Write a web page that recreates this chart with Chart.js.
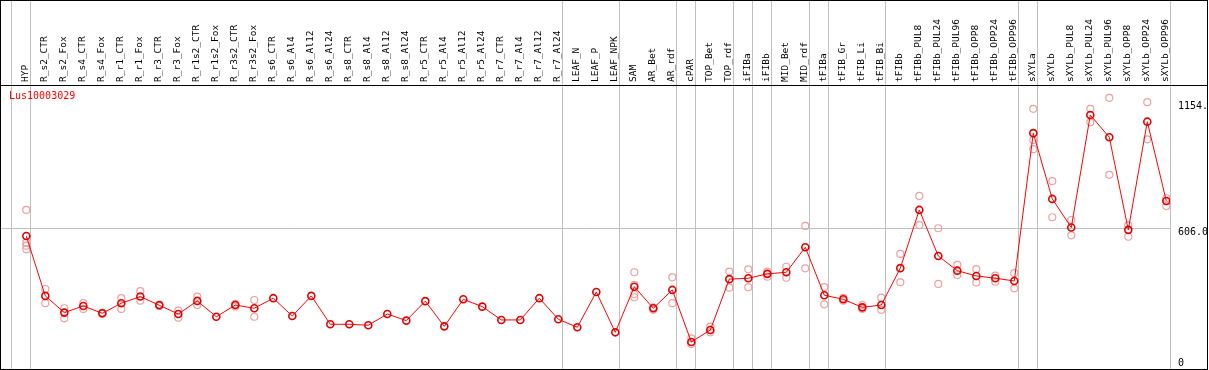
<!DOCTYPE html>
<html>
<head>
<meta charset="utf-8">
<script src="https://cdn.jsdelivr.net/npm/chart.js@4.4.1/dist/chart.umd.min.js"></script>
<style>
  html, body { margin: 0; padding: 0; background: #fff; }
  #wrap { width: 1209px; height: 370px; }
</style>
</head>
<body>
<div id="wrap"><canvas id="c" width="1209" height="370"></canvas></div>
<script>
const geneName = 'Lus10003029';

const categories = [
  'HYP', 'R_s2_CTR', 'R_s2_Fox', 'R_s4_CTR', 'R_s4_Fox', 'R_r1_CTR', 'R_r1_Fox', 'R_r3_CTR', 'R_r3_Fox',
  'R_r1s2_CTR', 'R_r1s2_Fox', 'R_r3s2_CTR', 'R_r3s2_Fox', 'R_s6_CTR', 'R_s6_Al4', 'R_s6_Al12', 'R_s6_Al24',
  'R_s8_CTR', 'R_s8_Al4', 'R_s8_Al12', 'R_s8_Al24', 'R_r5_CTR', 'R_r5_Al4', 'R_r5_Al12', 'R_r5_Al24',
  'R_r7_CTR', 'R_r7_Al4', 'R_r7_Al12', 'R_r7_Al24', 'LEAF_N', 'LEAF_P', 'LEAF_NPK', 'SAM', 'AR_Bet', 'AR_rdf',
  'cPAR', 'TOP_Bet', 'TOP_rdf', 'iFIBa', 'iFIBb', 'MID_Bet', 'MID_rdf', 'tFIBa', 'tFIB_Gr', 'tFIB_Li', 'tFIB_Bi',
  'tFIBb', 'tFIBb_PUL8', 'tFIBb_PUL24', 'tFIBb_PUL96', 'tFIBb_OPP8', 'tFIBb_OPP24', 'tFIBb_OPP96',
  'sXYLa', 'sXYLb', 'sXYLb_PUL8', 'sXYLb_PUL24', 'sXYLb_PUL96', 'sXYLb_OPP8', 'sXYLb_OPP24', 'sXYLb_OPP96'
];

// mean expression per sample
const meanValues = [
  572, 311, 238, 267, 235, 279, 308, 270, 232,
  289, 220, 271, 257, 301, 223, 311, 187,
  187, 183, 232, 203, 288, 178, 296, 264,
  206, 206, 301, 209, 174, 328, 152, 351, 257, 337,
  110, 162, 384, 388, 407, 414, 523, 314, 296, 261, 271,
  432, 686, 485, 421, 398, 388, 376,
  1021, 734, 609, 1100, 1003, 599, 1071, 725
];

// individual replicates per sample
const replicates = [
  [686, 543, 530, 514], [341, 279], [257, 213], [279, 254], [238, 232], [301, 254], [332, 290], [274, 267], [247, 216],
  [308, 271], [], [276, 264], [293, 220], [], [], [], [],
  [], [], [], [], [], [], [], [],
  [], [], [], [], [], [], [], [414, 359, 319, 305], [261, 250], [392, 279],
  [126, 101], [177, 152], [417, 347], [427, 349], [417, 395], [438, 390], [616, 431], [349, 274], [290, 302], [271, 254], [303, 250],
  [494, 370], [747, 620], [606, 363], [446, 402], [428, 369], [399, 373], [410, 344],
  [1127, 991, 951], [812, 654], [642, 575], [1127, 1068], [1175, 839], [620, 569], [1156, 994], [737, 703]
];

// group separators drawn after these sample indices
const separatorsAfter = [-1, 0, 28, 31, 34, 35, 37, 38, 39, 41, 42, 45, 52, 53, 60];

const yTickValues = [0, 606, 1154];
const yTickLabels = ['0', '606.0', '1154.'];

const meanPoints = meanValues.map((v, i) => ({ x: i, y: v }));
const repPoints = [];
replicates.forEach((arr, i) => arr.forEach(v => repPoints.push({ x: i, y: v })));

const framePlugin = {
  id: 'frame',
  beforeDatasetsDraw(chart) {
    const { ctx, chartArea, scales } = chart;
    ctx.save();
    ctx.strokeStyle = '#c0c0c0';
    ctx.lineWidth = 1;
    separatorsAfter.forEach(i => {
      const px = Math.round(scales.x.getPixelForValue(i + 0.21)) + 0.5;
      ctx.beginPath();
      ctx.moveTo(px, 0);
      ctx.lineTo(px, chartArea.bottom);
      ctx.stroke();
    });
    ctx.restore();
  },
  afterDraw(chart) {
    const { ctx, chartArea, scales } = chart;
    ctx.save();
    ctx.strokeStyle = '#000';
    ctx.lineWidth = 1;
    ctx.beginPath();
    ctx.moveTo(0, 0.5); ctx.lineTo(1208, 0.5);
    ctx.moveTo(0, chartArea.top + 0.5); ctx.lineTo(1208, chartArea.top + 0.5);
    ctx.moveTo(0, chartArea.bottom + 0.5); ctx.lineTo(1208, chartArea.bottom + 0.5);
    ctx.moveTo(0.5, 0); ctx.lineTo(0.5, chartArea.bottom);
    ctx.moveTo(1207.5, 0); ctx.lineTo(1207.5, chartArea.bottom);
    ctx.stroke();

    ctx.font = '10px "DejaVu Sans Mono"';
    ctx.textBaseline = 'top';
    ctx.textAlign = 'left';
    ctx.fillStyle = '#ff0000';
    ctx.fillText(geneName, 9, chartArea.top + 6);

    ctx.fillStyle = '#000';
    yTickValues.forEach((v, k) => {
      let py = scales.y.getPixelForValue(v) - 1;
      py = Math.min(py, chartArea.bottom - 11);
      ctx.fillText(yTickLabels[k], chartArea.right + 8, py);
    });
    ctx.restore();
  }
};

new Chart(document.getElementById('c'), {
  type: 'line',
  data: {
    datasets: [
      {
        label: 'mean',
        data: meanPoints,
        borderColor: '#ff0000',
        borderWidth: 1,
        pointRadius: 3.5,
        pointBorderWidth: 1.6,
        pointBorderColor: '#e00000',
        pointBackgroundColor: 'rgba(0,0,0,0)',
        tension: 0,
        order: 0
      },
      {
        label: 'replicates',
        data: repPoints,
        showLine: false,
        pointRadius: 3.5,
        pointBorderWidth: 1.2,
        pointBorderColor: '#f0a0a0',
        pointBackgroundColor: 'rgba(0,0,0,0)',
        order: 1
      }
    ]
  },
  options: {
    responsive: false,
    devicePixelRatio: 1,
    animation: false,
    layout: { autoPadding: false, padding: { left: 1, right: 2, top: 0, bottom: 1 } },
    plugins: { legend: { display: false }, tooltip: { enabled: false } },
    scales: {
      x: {
        type: 'linear',
        position: 'top',
        min: -1.332,
        max: 60.195,
        afterBuildTicks: s => { s.ticks = categories.map((c, i) => ({ value: i })); },
        afterFit: s => { s.height = 85; s.paddingLeft = 0; s.paddingRight = 0; },
        ticks: {
          autoSkip: false,
          minRotation: 90,
          maxRotation: 90,
          padding: 3,
          labelOffset: 11,
          color: '#000',
          font: { family: 'DejaVu Sans Mono', size: 9.5, lineHeight: 1.2 },
          callback: v => categories[v]
        },
        grid: { display: false, drawTicks: false },
        border: { display: false }
      },
      y: {
        type: 'linear',
        position: 'right',
        min: -8,
        max: 1231,
        afterBuildTicks: s => { s.ticks = yTickValues.map(v => ({ value: v })); },
        afterFit: s => { s.width = 37; s.paddingTop = 0; s.paddingBottom = 0; },
        ticks: { display: false },
        grid: {
          drawTicks: false,
          color: c => (c.tick && c.tick.value === 606) ? '#c0c0c0' : 'rgba(0,0,0,0)'
        },
        border: { display: false }
      }
    }
  },
  plugins: [framePlugin]
});
</script>
</body>
</html>
